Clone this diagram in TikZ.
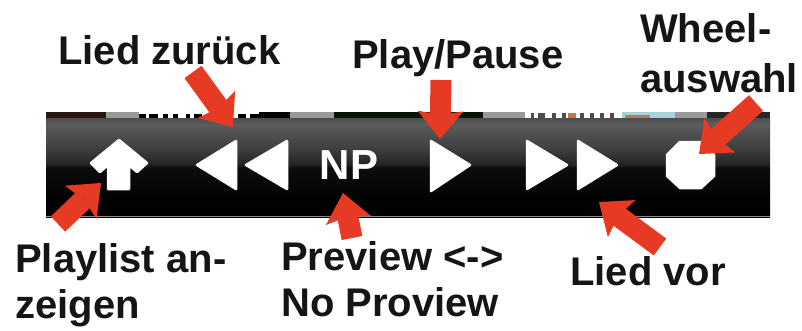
\documentclass[tikz,border=0pt]{standalone}
\usepackage{fontspec}
\setmainfont{Liberation Sans}
\usetikzlibrary{arrows.meta}
\definecolor{redarrow}{HTML}{E63A25}
\definecolor{labelink}{HTML}{151515}
\definecolor{paleblue}{HTML}{A5D3D8}
\definecolor{stripgrey}{HTML}{9A9A9A}
\definecolor{darkred}{HTML}{2A1512}
\definecolor{darkgreen}{HTML}{0A140A}
\definecolor{rust}{HTML}{C07850}
\pgfdeclareverticalshading{barshade}{100bp}{
  color(0bp)=(black);
  color(25bp)=(black);
  color(35bp)=(black!99);
  color(50bp)=(black!95);
  color(51.5bp)=(black!86);
  color(59bp)=(black!76);
  color(72bp)=(black!64);
  color(75bp)=(black!70);
  color(100bp)=(black!70)}
\tikzset{
  lab/.style={anchor=base west,inner sep=0pt,text=labelink,font=\fontsize{40}{44}\selectfont\bfseries},
  redarr/.style={draw=redarrow,line width=21pt,-{Stealth[length=28pt,width=46pt,inset=4pt,line width=0pt,fill=redarrow]}},
  icon/.style={fill=white,draw=white,line width=2.5pt,line join=round},
  strip/.style={fill=#1,draw=none},
}
\begin{document}
\begin{tikzpicture}[x=1pt,y=-1pt]
\useasboundingbox (0,0) rectangle (802,330);
% bar
\shade[shading=barshade] (46,118) rectangle (770,217);
\fill[black!45] (46,216.4) rectangle (770,217);
% top strip
\fill[strip=darkred] (46,112) rectangle (106,118);
\fill[strip=stripgrey] (106,112) rectangle (139,118);
\fill[strip=black] (259,112) rectangle (290,118);
\fill[strip=stripgrey] (290,112) rectangle (334,118);
\fill[strip=darkgreen] (334,112) rectangle (483,118);
\fill[strip=stripgrey] (483,112) rectangle (525,118);
\fill[strip=paleblue] (622,112) rectangle (675,118);
\fill[strip=stripgrey] (675,112) rectangle (707,118);
\fill[strip=black!85] (707,112) rectangle (770,118);
\foreach \a/\b in {139/146,149/158,163/168,173/178,186/190,194/202,238/246,250/259}
  \fill[black] (\a,114) rectangle (\b,118);
\foreach \a/\b in {531/534,538/545,552/556,562/566,580/584,590/594,600/604,610/614}
  \fill[black!70] (\a,113) rectangle (\b,118);
\fill[rust] (568,113) rectangle (576,118);
\fill[rust] (625,115) rectangle (650,118);
% icons
\path[icon] (119,140) -- (147,163) -- (137,172) -- (129,165) -- (129,189) -- (108,189) -- (108,165) -- (100,172) -- (91,163) -- cycle;
\path[icon] (197,165) -- (236,141) -- (236,189) -- cycle;
\path[icon] (246,165) -- (287,141) -- (287,189) -- cycle;
\path[icon] (431,141) -- (470,165) -- (431,191) -- cycle;
\path[icon] (527,141) -- (567,165) -- (527,189) -- cycle;
\path[icon] (578,141) -- (617,165) -- (578,189) -- cycle;
\path[icon] (680,142) -- (701,142) -- (714,155) -- (714,176) -- (701,188) -- (680,188) -- (667,176) -- (667,155) -- cycle;
\node[anchor=base,inner sep=0pt,text=white,font=\fontsize{42}{44}\selectfont\bfseries] (np) at (349,179) {NP};
% labels
\node[lab] (zurueck) at (58,64) {Lied zurück};
\node[lab] (play) at (352,68) {Play/Pause};
\node[lab] (wheelA) at (640,42) {Wheel-};
\node[lab] (wheelB) at (640,92) {auswahl};
\node[lab] (listA) at (15,272) {Playlist an-};
\node[lab] (listB) at (15,318) {zeigen};
\node[lab] (prevA) at (281,270) {Preview <->};
\node[lab] (prevB) at (281,316) {No Proview};
\node[lab] (vor) at (570,285) {Lied vor};
% arrows
\coordinate (t1) at (193,72); \coordinate (h1) at (233,127);
\coordinate (t2) at (58,224); \coordinate (h2) at (101,183);
\coordinate (t3) at (352,238); \coordinate (h3) at (343,193);
\coordinate (t4) at (441,80); \coordinate (h4) at (440,139);
\coordinate (t5) at (660,247); \coordinate (h5) at (599,202);
\coordinate (t6) at (756,103); \coordinate (h6) at (699,154);
\foreach \t/\h in {t1/h1,t2/h2,t3/h3,t4/h4,t5/h5,t6/h6}
  \draw[redarr] (\t) -- (\h);
\end{tikzpicture}
\end{document}
